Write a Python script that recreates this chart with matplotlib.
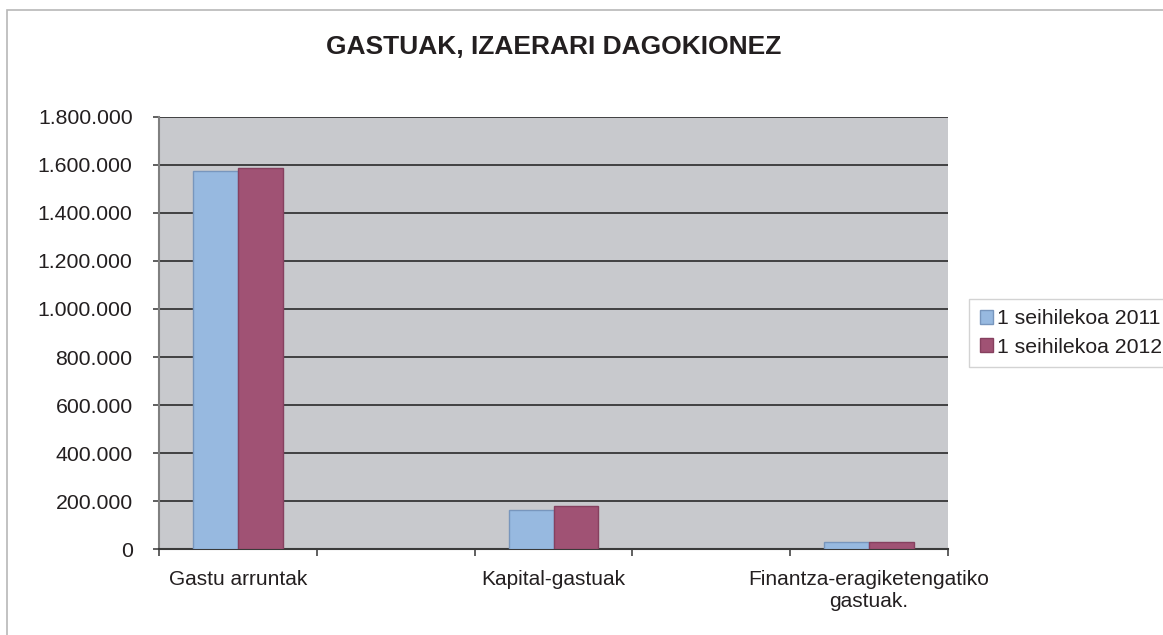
import numpy as np
import matplotlib
matplotlib.use("Agg")
import matplotlib.pyplot as plt
from matplotlib.patches import Rectangle
from matplotlib.ticker import FuncFormatter, FixedLocator

plt.rcParams['font.family'] = ['Liberation Sans', 'DejaVu Sans']

# data (euros)
categories = ["Gastu arruntak", "Kapital-gastuak", "Finantza-eragiketengatiko\ngastuak."]
slots = [0, 2, 4]          # the Excel chart had two empty categories in between
n_slots = 5
vals_2011 = [1574000, 163000, 30000]
vals_2012 = [1586000, 180000, 30000]
series = ["1 seihilekoa 2011", "1 seihilekoa 2012"]

W, H = 1163, 635
fig = plt.figure(figsize=(W / 100, H / 100), dpi=100)

# outer chart frame
fig.add_artist(Rectangle((7 / W, -0.1), 1.2, 1 - 10 / H + 0.1, transform=fig.transFigure,
                         fill=False, edgecolor='#b8b8b8', linewidth=1.2))

ax = fig.add_axes([159 / W, 1 - 549.3 / H, 789 / W, 432.6 / H])
ax.set_facecolor('#c8c9cd')

x = np.array(slots)
bw = 0.285
ax.bar(x - bw / 2, vals_2011, bw, color='#97b9e0', edgecolor='#7896bd', linewidth=1,
       label=series[0], zorder=3)
ax.bar(x + bw / 2, vals_2012, bw, color='#a05274', edgecolor='#86405f', linewidth=1,
       label=series[1], zorder=3)

ax.set_xlim(-0.5, n_slots - 0.5)
ax.set_ylim(0, 1800000)
ax.set_yticks(np.arange(0, 1800001, 200000))
ax.yaxis.set_major_formatter(FuncFormatter(lambda v, p: f"{v:,.0f}".replace(",", ".")))
ax.grid(axis='y', color='#2a2a2a', linewidth=1.2, zorder=1)
ax.set_axisbelow(True)

ax.set_xticks(x)
ax.set_xticklabels(categories)
ax.xaxis.set_minor_locator(FixedLocator(np.arange(-0.5, n_slots, 1)))
ax.tick_params(axis='x', which='major', length=0, pad=15, labelsize=15, labelcolor='#231f20')
ax.tick_params(axis='x', which='minor', length=5, width=1.2, color='#444444', direction='out')
ax.tick_params(axis='y', length=4, width=1.2, color='#444444', labelsize=15.3,
               labelcolor='#231f20', pad=15)

for s in ['top', 'right']:
    ax.spines[s].set_visible(False)
ax.spines['left'].set_color('#808080')
ax.spines['left'].set_linewidth(1.5)
ax.spines['bottom'].set_color('#3a3a3a')
ax.spines['bottom'].set_linewidth(1.5)

fig.text(554 / W, 1 - 47 / H, "GASTUAK, IZAERARI DAGOKIONEZ", ha='center', va='center',
         fontsize=19, fontweight='bold', color='#231f20')

leg = fig.legend(loc='center left', bbox_to_anchor=(969 / W, 1 - 333 / H), frameon=True,
                 fancybox=False, fontsize=15.3, handlelength=0.65, handleheight=0.65,
                 handletextpad=0.15, borderpad=0.5, labelspacing=0.45, borderaxespad=0)
leg.get_frame().set_edgecolor('#c8c8c8')
leg.get_frame().set_linewidth(1.0)
for t in leg.get_texts():
    t.set_color('#231f20')

fig.savefig("out.png", dpi=100)
